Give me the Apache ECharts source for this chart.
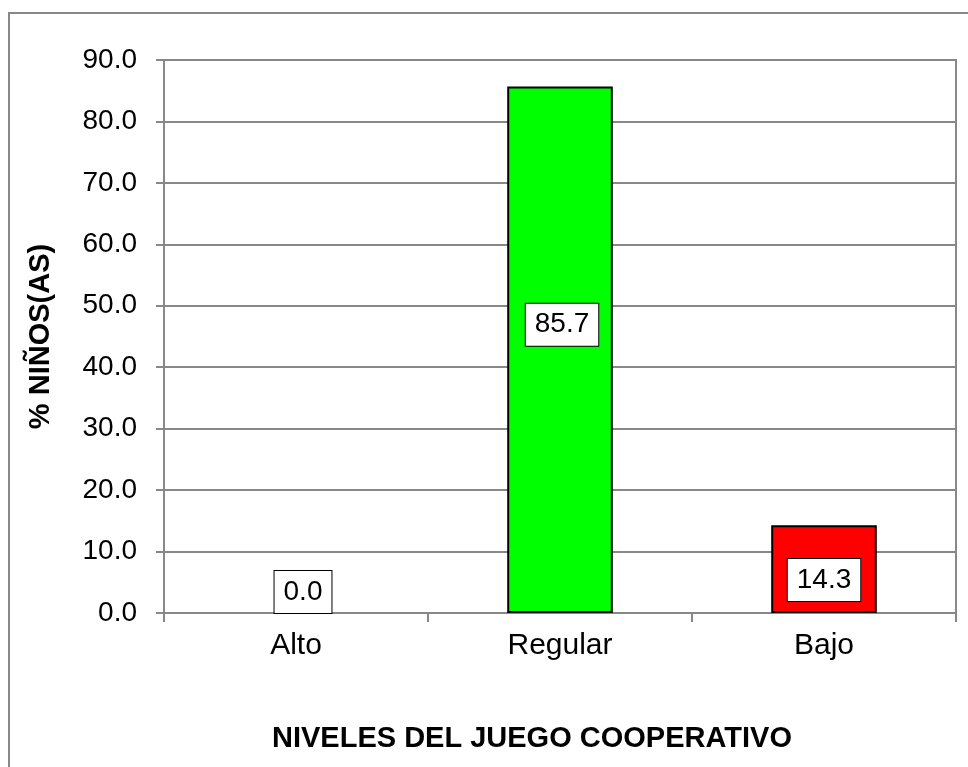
<!DOCTYPE html>
<html>
<head>
<meta charset="utf-8">
<script src="https://cdn.jsdelivr.net/npm/echarts@6/dist/echarts.min.js"></script>
<style>
html,body{margin:0;padding:0;background:#fff;}
#chart{width:968px;height:767px;}
</style>
</head>
<body>
<div id="chart"></div>
<script>
// datos del grafico
var niveles = ['Alto', 'Regular', 'Bajo'];
var porcentajes = [0.0, 85.7, 14.3];
var colores = ['#0000FF', '#00FF00', '#FF0000'];
var ejeY = { min: 0, max: 90, interval: 10 };

// desplazamiento de las etiquetas (estilo)
var desplaz = [[7, -21], [2, -25], [0, 11]];

var fuente = 'Liberation Sans, Arial, sans-serif';
var gris = '#888888';

var barras = [];
for (var i = 0; i < porcentajes.length; i++) {
    barras.push({
        value: porcentajes[i],
        itemStyle: {
            color: colores[i],
            borderColor: '#000',
            borderWidth: porcentajes[i] === 0 ? 0 : 2
        },
        label: { offset: desplaz[i] }
    });
}

var chart = echarts.init(document.getElementById('chart'));
chart.setOption({
    animation: false,
    backgroundColor: '#fff',
    textStyle: { fontFamily: fuente },
    graphic: [{
        type: 'rect',
        shape: { x: 9, y: 13, width: 980, height: 780 },
        style: { fill: 'none', stroke: gris, lineWidth: 2 }
    }],
    title: {
        text: 'NIVELES DEL JUEGO COOPERATIVO',
        left: 272,
        top: 724,
        padding: 0,
        textStyle: { fontFamily: fuente, fontSize: 29, fontWeight: 'bold', color: '#000' }
    },
    grid: {
        left: 164, right: 12, top: 60, bottom: 154,
        show: true, borderColor: gris, borderWidth: 2
    },
    xAxis: {
        type: 'category',
        data: niveles,
        axisLine: { lineStyle: { color: gris, width: 2 } },
        axisTick: { show: true, length: 9, lineStyle: { color: gris, width: 2 } },
        axisLabel: { margin: 18, fontSize: 30, color: '#000', fontFamily: fuente }
    },
    yAxis: {
        type: 'value',
        min: ejeY.min, max: ejeY.max, interval: ejeY.interval,
        name: '% NIÑOS(AS)',
        nameLocation: 'middle',
        nameGap: 109,
        nameRotate: 90,
        nameTextStyle: { fontSize: 29, fontWeight: 'bold', color: '#000', fontFamily: fuente },
        axisLine: { show: true, lineStyle: { color: gris, width: 2 } },
        axisTick: { show: true, length: 8, lineStyle: { color: gris, width: 2 } },
        splitLine: { lineStyle: { color: gris, width: 2 } },
        axisLabel: {
            margin: 27, fontSize: 28, color: '#000', fontFamily: fuente,
            formatter: function (v) { return v.toFixed(1); }
        }
    },
    series: [{
        type: 'bar',
        data: barras,
        barWidth: '40%',
        label: {
            show: true,
            position: 'inside',
            formatter: function (p) { return p.value.toFixed(1); },
            fontSize: 28,
            lineHeight: 30,
            color: '#000',
            fontFamily: fuente,
            backgroundColor: '#fff',
            borderColor: '#000',
            borderWidth: 1,
            padding: [6, 9]
        }
    }]
});
</script>
</body>
</html>
